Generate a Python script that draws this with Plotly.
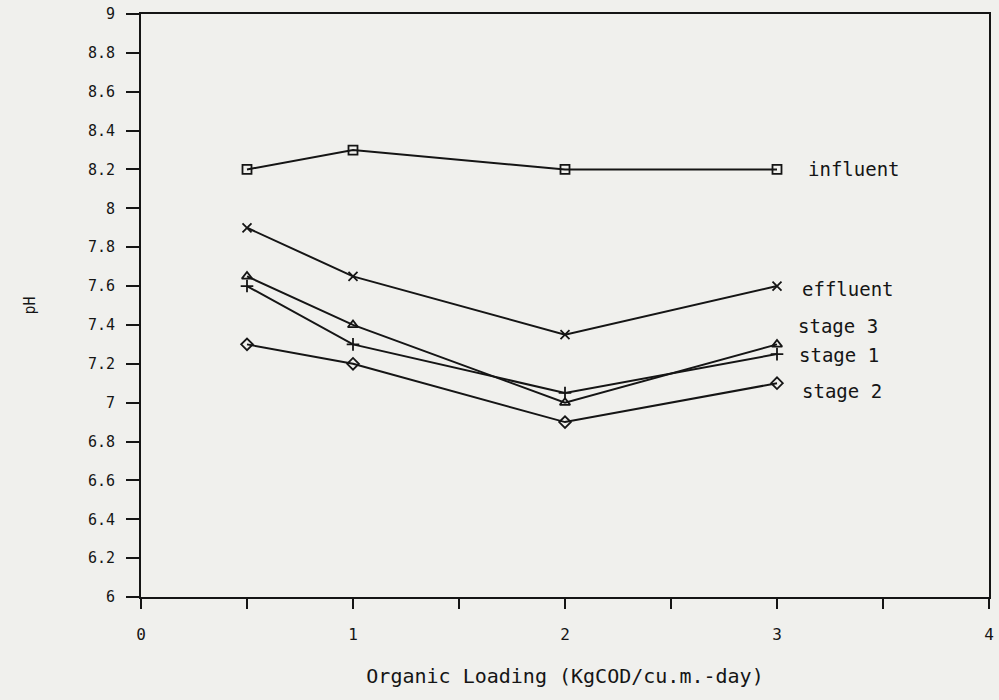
import plotly.graph_objects as go

loading = [0.5, 1, 2, 3]
influent = [8.2, 8.3, 8.2, 8.2]
effluent = [7.9, 7.65, 7.35, 7.6]
stage3 = [7.65, 7.4, 7.0, 7.3]
stage1 = [7.6, 7.3, 7.05, 7.25]
stage2 = [7.3, 7.2, 6.9, 7.1]

# name, values, symbol, label xshift, label yshift
series = [
    ("influent", influent, "square-open", 29, 0),
    ("effluent", effluent, "x-thin-open", 23, -3),
    ("stage 3", stage3, "triangle-up-open", 19, 18),
    ("stage 1", stage1, "cross-thin-open", 20, -1),
    ("stage 2", stage2, "diamond-open", 23, -8),
]

FONT = "DejaVu Sans Mono"
INK = "#151515"
fig = go.Figure()
for name, vals, sym, xs, ys in series:
    fig.add_trace(go.Scatter(
        x=loading, y=vals, mode="lines+markers", name=name,
        line=dict(color=INK, width=2),
        marker=dict(symbol=sym, size=9, color=INK, line=dict(color=INK, width=1.8)),
        showlegend=False,
    ))
    fig.add_annotation(x=loading[-1], y=vals[-1], text=name, showarrow=False,
                       xanchor="left", xshift=xs, yshift=ys,
                       font=dict(family=FONT, size=19, color=INK))

xticks = [0, 0.5, 1, 1.5, 2, 2.5, 3, 3.5, 4]
xlabels = ["0", "", "1", "", "2", "", "3", "", "4"]
yticks = [6, 6.2, 6.4, 6.6, 6.8, 7, 7.2, 7.4, 7.6, 7.8, 8, 8.2, 8.4, 8.6, 8.8, 9]

fig.update_layout(
    width=999, height=700,
    margin=dict(l=141, r=10, t=14, b=103, autoexpand=False),
    paper_bgcolor="#f0f0ed", plot_bgcolor="#f0f0ed",
    font=dict(family=FONT, size=15, color=INK),
    xaxis=dict(range=[0, 4], tickvals=xticks, ticktext=xlabels, ticks="outside",
               ticklen=10, tickwidth=2, tickcolor=INK, showgrid=False, zeroline=False,
               showline=True, linecolor=INK, linewidth=2, mirror=True,
               ticklabelstandoff=12,
               title=dict(text="Organic Loading (KgCOD/cu.m.-day)", standoff=26,
                          font=dict(family=FONT, size=20)),
               tickfont=dict(family=FONT, size=16)),
    yaxis=dict(range=[6, 9], tickvals=yticks, ticktext=[("%g" % v) for v in yticks],
               ticks="outside", ticklen=13, tickwidth=2, tickcolor=INK,
               showgrid=False, zeroline=False, showline=True, linecolor=INK,
               linewidth=2, mirror=True, ticklabelstandoff=8,
               title=dict(text="pH", standoff=49, font=dict(family=FONT, size=15)),
               tickfont=dict(family=FONT, size=15)),
)

fig.write_html("out.html")
